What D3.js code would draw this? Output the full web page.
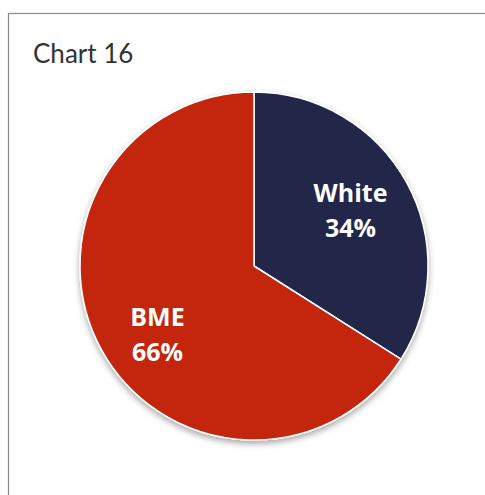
<!DOCTYPE html>
<html>
<head>
<meta charset="utf-8">
<script src="https://cdn.jsdelivr.net/npm/d3@7"></script>
<style>
  html, body { margin: 0; padding: 0; background: #fff; }
  svg { display: block; }
</style>
</head>
<body>
<svg id="chart" width="485" height="495"></svg>
<script>
// Ethnicity breakdown
const categories = ["White", "BME"];
const shares = [34, 66];
const colors = ["#222849", "#C4260E"];
const title = "Chart 16";

const svg = d3.select("#chart");
const W = 485, H = 495;

// Outer frame (runs off the right and bottom edges)
svg.append("rect")
  .attr("x", 8.5).attr("y", 13.5)
  .attr("width", W).attr("height", H)
  .attr("fill", "#fff")
  .attr("stroke", "#8a8a8a").attr("stroke-width", 1.2);

svg.append("text")
  .attr("x", 33).attr("y", 63)
  .attr("font-family", "Lato, 'Open Sans', sans-serif")
  .attr("font-size", 26)
  .attr("fill", "#333")
  .text(title);

const defs = svg.append("defs");
const f = defs.append("filter").attr("id", "shadow")
  .attr("x", "-10%").attr("y", "-10%").attr("width", "120%").attr("height", "125%");
f.append("feDropShadow")
  .attr("dx", 0).attr("dy", 3).attr("stdDeviation", 3)
  .attr("flood-color", "#000").attr("flood-opacity", 0.35);

const cx = 254, cy = 266, r = 174;
const data = categories.map((c, i) => ({ name: c, value: shares[i], color: colors[i] }));

const pie = d3.pie().value(d => d.value).sort(null);
const arc = d3.arc().innerRadius(0).outerRadius(r);

const g = svg.append("g").attr("transform", `translate(${cx},${cy})`);
const arcs = pie(data);

g.append("g").attr("filter", "url(#shadow)")
  .selectAll("path").data(arcs).join("path")
  .attr("d", arc)
  .attr("fill", d => d.data.color)
  .attr("stroke", "#fff")
  .attr("stroke-width", 1.5)
  .attr("stroke-linejoin", "round");

// Labels sit inside each slice, nudged slightly counter-clockwise of the mid-angle
const labelR = r * 0.66, angleNudge = -4 * Math.PI / 180;
function labelPos(d) {
  const a = (d.startAngle + d.endAngle) / 2 + angleNudge;
  return [labelR * Math.sin(a), -labelR * Math.cos(a) + 6];
}

const labels = g.selectAll("text.lbl").data(arcs).join("text")
  .attr("class", "lbl")
  .attr("transform", d => `translate(${labelPos(d)})`)
  .attr("text-anchor", "middle")
  .attr("font-family", "'Open Sans', Lato, sans-serif")
  .attr("font-weight", "bold")
  .attr("font-size", 25)
  .attr("fill", "#fff");
labels.append("tspan").attr("x", 0).attr("y", -8).text(d => d.data.name);
labels.append("tspan").attr("x", 0).attr("y", 27).text(d => d.data.value + "%");
</script>
</body>
</html>
